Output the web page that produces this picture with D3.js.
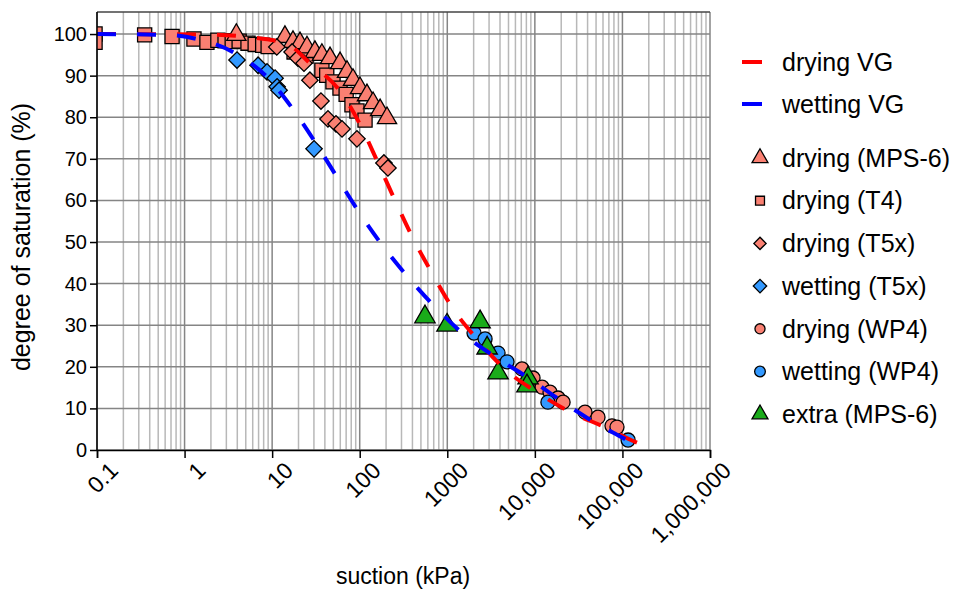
<!DOCTYPE html>
<html>
<head>
    <title>Water retention</title>
    <script src="https://cdnjs.cloudflare.com/ajax/libs/d3/7.8.5/d3.min.js"></script>
    <style>
        body { margin: 0; background: white; }
        text { font-family: "Liberation Sans", Arial, sans-serif; fill: #000; }
    </style>
</head>
<body>
    <div id="chart"></div>
    <script>
        // Curves: [suction kPa, saturation %]
        const dryingVG = [[0.1,100],[1.8,99.9],[5.2,99.3],[14.8,97.6],[27,93],[61,86],[103,77.9],[162,69],[253,60],[395,51.4],[670,42.5],[1160,34],[2240,26.4],[4680,19.2],[10000,14.2],[24000,9.4],[66000,5.3],[162000,1.4],[223000,0.5]];
        const wettingVG = [[0.1,100],[0.63,99.8],[1.39,98.8],[3.77,95.4],[8.7,89.7],[16.9,82.2],[31,74],[55,65.6],[98,57.2],[180,49.3],[355,41.6],[724,34.4],[1590,27.6],[3400,22.6],[8800,17.1],[21000,11.5],[47300,6.7],[122000,1.9],[151000,0.7]];

        // Measured points
        const dryMPS6 = [[3.9,99.8],[14,99.3],[17.3,98.1],[20.8,97.8],[25,96.8],[30.8,95.7],[37,95],[45.8,94.2],[59.6,93],[71.6,90.9],[83.8,89],[100.7,87],[121,85.3],[142,83.4],[171,81.7],[205,79.8]];
        const dryT4 = [[0.095,100],[0.095,98],[0.35,99.8],[0.72,99.4],[1.28,98.8],[1.8,98],[2.4,98.5],[2.9,98.4],[3.5,98.2],[4.2,98.3],[5.3,97.8],[6.4,97.5],[7.8,97.3],[9,97],[17.8,95.7],[24.4,94.7],[37,91.3],[42,90.1],[49.5,88.5],[59.6,87],[70,85.5],[81.6,83],[93,81.5],[115,79.3]];
        const dryT5x = [[11.3,96.9],[16.9,95.7],[19.7,94.2],[23.1,93],[27,88.9],[36.1,83.9],[43.4,79.6],[53.6,78.4],[62.8,77.2],[93,74.8],[189,69],[210,67.8]];
        const wetT5x = [[3.97,93.75],[6.9,92.5],[8.74,90.9],[10.8,89.4],[11.4,87.3],[12,86.5],[30.1,72.4]];
        const dryWP4 = [[7130,19.5],[9530,17.3],[12100,15.1],[14900,13.9],[18400,12.5],[21000,11.5],[37400,9.1],[52600,7.9],[76000,5.8],[86700,5.5]];
        const wetWP4 = [[2020,28.1],[2700,26.7],[3800,23.3],[4810,21.2],[14100,11.5],[116000,2.4]];
        const extraMPS6 = [[556,32],[993,30],[2370,30.8],[2850,24.5],[3800,18.5],[8360,17.3],[8130,15.4]];

        const xTickValues = [0.1, 1, 10, 100, 1000, 10000, 100000, 1000000];
        const xTickLabels = ["0.1", "1", "10", "100", "1000", "10,000", "100,000", "1,000,000"];
        const yTickValues = [0, 10, 20, 30, 40, 50, 60, 70, 80, 90, 100];

        const width = 955, height = 590;
        const plotLeft = 97, plotRight = 710, plotTop = 12, plotBottom = 450;

        const salmon = "#fa8072", lightBlue = "#3399ff", green = "#1aab1a";

        const svg = d3.select("#chart").append("svg")
            .attr("width", width)
            .attr("height", height);

        const x = d3.scaleLog().domain([0.1, 1e6]).range([plotLeft, plotRight]);
        const y = d3.scaleLinear().domain([0, 105.3]).range([plotBottom, plotTop]);

        // grid
        const grid = svg.append("g");
        const minor = [];
        for (let e = -1; e < 6; e++) {
            for (let k = 2; k <= 9; k++) minor.push(k * Math.pow(10, e));
        }
        grid.selectAll(".minor").data(minor).enter().append("line")
            .attr("x1", d => x(d)).attr("x2", d => x(d))
            .attr("y1", plotTop).attr("y2", plotBottom)
            .attr("stroke", "#b8b8b8").attr("stroke-width", 1.5);
        grid.selectAll(".major").data(xTickValues).enter().append("line")
            .attr("x1", d => x(d)).attr("x2", d => x(d))
            .attr("y1", plotTop).attr("y2", plotBottom)
            .attr("stroke", "#858585").attr("stroke-width", 1.5);
        grid.selectAll(".hgrid").data(yTickValues).enter().append("line")
            .attr("x1", plotLeft).attr("x2", plotRight)
            .attr("y1", d => y(d)).attr("y2", d => y(d))
            .attr("stroke", "#858585").attr("stroke-width", 1.5);
        grid.append("line")
            .attr("x1", plotLeft).attr("x2", plotRight).attr("y1", plotTop).attr("y2", plotTop)
            .attr("stroke", "#444").attr("stroke-width", 1.5);

        svg.append("clipPath").attr("id", "clip")
            .append("rect").attr("x", plotLeft).attr("y", plotTop)
            .attr("width", plotRight - plotLeft).attr("height", plotBottom - plotTop);

        const plot = svg.append("g").attr("clip-path", "url(#clip)");

        const line = d3.line()
            .x(d => x(d[0]))
            .y(d => y(d[1]))
            .curve(d3.curveMonotoneX);

        const sym = {
            triangle: d3.symbol().type(d3.symbolTriangle),
            square: d3.symbol().type(d3.symbolSquare),
            diamond: d3.symbol().type(d3.symbolSquare),
            circle: d3.symbol().type(d3.symbolCircle)
        };

        function drawPoints(data, shape, fill, size) {
            plot.append("g").selectAll("path")
                .data(data).enter().append("path")
                .attr("d", sym[shape].size(size)())
                .attr("transform", d => `translate(${x(d[0])},${y(d[1])})` + (shape === "diamond" ? " rotate(45)" : ""))
                .attr("fill", fill)
                .attr("stroke", "#000")
                .attr("stroke-width", 1.3);
        }

        drawPoints(dryT4, "square", salmon, 200);
        drawPoints(dryMPS6, "triangle", salmon, 160);
        drawPoints(dryT5x, "diamond", salmon, 135);
        drawPoints(wetT5x, "diamond", lightBlue, 135);
        drawPoints(dryWP4, "circle", salmon, 155);
        drawPoints(wetWP4, "circle", lightBlue, 155);
        drawPoints(extraMPS6, "triangle", green, 180);

        plot.append("path").datum(dryingVG)
            .attr("d", line).attr("fill", "none")
            .attr("stroke", "#ff0000").attr("stroke-width", 4)
            .attr("stroke-dasharray", "19,21");
        plot.append("path").datum(wettingVG)
            .attr("d", line).attr("fill", "none")
            .attr("stroke", "#0000ff").attr("stroke-width", 4)
            .attr("stroke-dasharray", "19,21");

        // axes
        const xAxis = svg.append("g").attr("transform", `translate(0,${plotBottom})`)
            .call(d3.axisBottom(x).tickValues(xTickValues).tickFormat("").tickSizeOuter(0).tickSize(8));
        xAxis.select(".domain").attr("stroke-width", 1.5);
        xAxis.selectAll(".tick line").attr("stroke-width", 1.5);
        xAxis.selectAll(".tick").append("text")
            .attr("transform", "translate(22,22) rotate(-45)")
            .attr("text-anchor", "end")
            .style("font-size", "23px")
            .text((d, i) => xTickLabels[i]);

        const yAxis = svg.append("g").attr("transform", `translate(${plotLeft},0)`)
            .call(d3.axisLeft(y).tickValues(yTickValues).tickSizeOuter(0).tickSize(7).tickPadding(3));
        yAxis.select(".domain").attr("stroke-width", 1.5).attr("d", `M0,${plotTop}V${plotBottom}`);
        yAxis.selectAll(".tick line").attr("stroke-width", 1.5);
        yAxis.selectAll(".tick text").style("font-size", "20px");

        svg.append("text")
            .attr("x", 403).attr("y", 584)
            .attr("text-anchor", "middle")
            .style("font-size", "23px")
            .text("suction (kPa)");
        svg.append("text")
            .attr("transform", "translate(30,237) rotate(-90)")
            .attr("text-anchor", "middle")
            .style("font-size", "25px")
            .text("degree of saturation (%)");

        // legend
        const legend = svg.append("g");
        const lineItems = [["drying VG", "#ff0000", 62], ["wetting VG", "#0000ff", 104]];
        lineItems.forEach(([label, color, ly]) => {
            legend.append("line").attr("x1", 742).attr("x2", 762).attr("y1", ly).attr("y2", ly)
                .attr("stroke", color).attr("stroke-width", 4);
            legend.append("text").attr("x", 782).attr("y", ly).attr("dy", "0.35em")
                .style("font-size", "25px").text(label);
        });
        const symItems = [
            ["drying (MPS-6)", "triangle", salmon, 110],
            ["drying (T4)", "square", salmon, 80],
            ["drying (T5x)", "diamond", salmon, 75],
            ["wetting (T5x)", "diamond", lightBlue, 90],
            ["drying (WP4)", "circle", salmon, 80],
            ["wetting (WP4)", "circle", lightBlue, 90],
            ["extra (MPS-6)", "triangle", green, 110]
        ];
        symItems.forEach(([label, shape, fill, size], i) => {
            const ly = 158 + i * 42.7;
            legend.append("path")
                .attr("d", sym[shape].size(size)())
                .attr("transform", `translate(760,${ly})` + (shape === "diamond" ? " rotate(45)" : ""))
                .attr("fill", fill).attr("stroke", "#000").attr("stroke-width", 1.3);
            legend.append("text").attr("x", 782).attr("y", ly).attr("dy", "0.35em")
                .style("font-size", "25px").text(label);
        });
    </script>
</body>
</html>
